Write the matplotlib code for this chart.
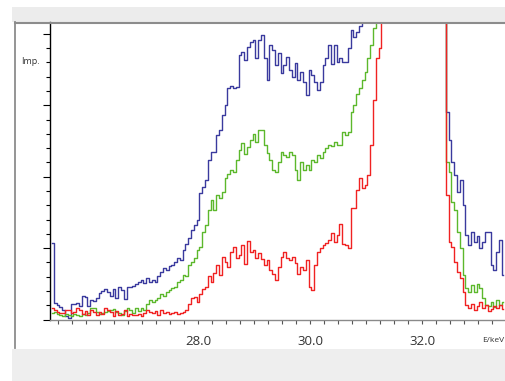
import numpy as np
import matplotlib.pyplot as plt
from matplotlib.patches import Rectangle
from matplotlib.lines import Line2D
from matplotlib.ticker import MultipleLocator, FormatStrFormatter

plt.rcParams['font.family'] = ['Open Sans', 'DejaVu Sans']

# channel calibration (keV)
e_start = 25.40
e_step = 0.05

# counts per channel (peak region is off-scale)
blue = [539, 119, 105, 91, 70, 28, 14, 112, 112, 119,
        98, 168, 161, 98, 140, 133, 154, 189, 203, 217,
        196, 168, 217, 154, 231, 210, 147, 231, 231, 238,
        252, 266, 280, 259, 294, 266, 280, 266, 308, 336,
        364, 350, 378, 385, 406, 434, 420, 490, 532, 574,
        630, 665, 700, 889, 931, 980, 1120, 1176, 1176, 1295,
        1330, 1435, 1505, 1624, 1638, 1624, 1631, 1855, 1876, 1820,
        1911, 1946, 1960, 1834, 1960, 1995, 1834, 1680, 1925, 1890,
        1785, 1869, 1729, 1785, 1841, 1750, 1701, 1799, 1680, 1736,
        1666, 1575, 1750, 1715, 1666, 1610, 1666, 1785, 1834, 1925,
        1792, 1925, 1806, 1834, 1806, 1806, 1904, 2030, 1981, 2016,
        2058, 2150, 2300, 2500, 2750, 3050, 3400, 3900, 4500, 5300,
        6300, 7600, 9200, 11000, 13000, 15000, 16800, 18000, 18500, 18200,
        17200, 15600, 13600, 11400, 9300, 7400, 5800, 4600, 3700, 3000,
        2500, 1456, 1260, 1106, 1015, 896, 980, 805, 595, 525,
        616, 546, 588, 504, 546, 616, 616, 385, 350, 476,
        560, 315]

green = [49, 56, 42, 35, 28, 42, 35, 28, 42, 35,
         28, 42, 35, 49, 84, 84, 56, 42, 49, 56,
         63, 70, 77, 56, 49, 35, 63, 84, 70, 49,
         84, 63, 84, 70, 112, 140, 126, 140, 154, 182,
         168, 196, 210, 224, 231, 266, 280, 315, 308, 385,
         406, 434, 490, 511, 616, 665, 770, 840, 770, 875,
         854, 896, 994, 1022, 1050, 1036, 1120, 1190, 1239, 1162,
         1211, 1260, 1302, 1246, 1330, 1330, 1225, 1169, 1120, 1050,
         1036, 1106, 1176, 1155, 1141, 1176, 1155, 1050, 980, 1106,
         1050, 1085, 1050, 1120, 1106, 1155, 1134, 1176, 1204, 1225,
         1218, 1246, 1225, 1225, 1316, 1295, 1316, 1456, 1505, 1582,
         1624, 1680, 1736, 1834, 1925, 2044, 2250, 2550, 2950, 3500,
         4200, 5100, 6300, 7700, 9300, 10900, 12200, 13000, 13300, 13000,
         12100, 10800, 9200, 7600, 6100, 4800, 3800, 3100, 2600, 2350,
         2200, 1106, 1036, 826, 770, 616, 504, 315, 224, 196,
         245, 196, 252, 224, 154, 105, 98, 126, 91, 140,
         105, 126]

red = [84, 70, 56, 49, 49, 70, 70, 49, 56, 84,
       70, 42, 63, 35, 70, 56, 35, 56, 42, 84,
       70, 56, 28, 63, 35, 42, 70, 28, 42, 35,
       35, 42, 28, 49, 70, 56, 49, 63, 35, 70,
       49, 56, 42, 49, 56, 42, 49, 56, 70, 112,
       154, 161, 126, 182, 217, 231, 308, 266, 329, 385,
       315, 441, 406, 371, 476, 511, 434, 455, 525, 392,
       553, 476, 490, 434, 469, 427, 385, 420, 350, 322,
       280, 371, 441, 476, 434, 420, 441, 399, 322, 371,
       350, 420, 231, 210, 385, 476, 504, 525, 539, 560,
       609, 546, 595, 672, 532, 525, 504, 784, 784, 910,
       994, 924, 945, 1015, 1225, 1540, 1834, 1904, 2300, 2900,
       3700, 4800, 6100, 7500, 8800, 9800, 10300, 10200, 9600, 8500,
       7200, 5900, 4800, 3900, 3200, 2700, 2400, 2250, 2200, 2150,
       2120, 875, 546, 511, 406, 336, 294, 196, 105, 84,
       112, 70, 98, 126, 84, 105, 63, 77, 98, 84,
       105, 77]

energy = e_start + e_step * np.arange(len(blue))

W, H = 506, 381
fig = plt.figure(figsize=(W / 100, H / 100), dpi=100)
fig.patch.set_facecolor('white')

# window chrome: grey strips and panel border
fig.add_artist(Rectangle((12 / W, 1 - 22 / H), 1, 15 / H, transform=fig.transFigure,
                         facecolor='#ececec', edgecolor='none', zorder=0))
fig.add_artist(Rectangle((12 / W, 0), 1, 1 - 349 / H, transform=fig.transFigure,
                         facecolor='#eeeeee', edgecolor='none', zorder=0))
fig.add_artist(Line2D([15 / W, 15 / W], [1 - 22 / H, 1 - 348 / H], transform=fig.transFigure,
                      color='#8c8c8c', lw=1.3, zorder=1))
fig.add_artist(Line2D([15 / W, 1], [1 - 22.5 / H, 1 - 22.5 / H], transform=fig.transFigure,
                      color='#8c8c8c', lw=1.5, zorder=1))

ax = fig.add_axes([50 / W, 1 - 319.5 / H, 1 - 50 / W, 297 / H])
ax.step(energy, blue, where='mid', color='#3a3a9e', lw=1.0)
ax.step(energy, green, where='mid', color='#5cb82c', lw=1.0)
ax.step(energy, red, where='mid', color='#f02222', lw=1.0)

ax.set_xlim(25.357, 33.5)
ax.set_ylim(0, 2080)

ax.set_xticks([28, 30, 32])
ax.xaxis.set_major_formatter(FormatStrFormatter('%.1f'))
ax.xaxis.set_minor_locator(MultipleLocator(0.25))
ax.yaxis.set_major_locator(MultipleLocator(500))
ax.yaxis.set_minor_locator(MultipleLocator(100))
ax.tick_params(axis='x', which='both', direction='out', length=3, width=0.8,
               color='#555555', labelsize=9.5, labelcolor='#333333', pad=8)
ax.tick_params(axis='y', which='major', direction='out', length=5, width=0.8, labelleft=False)
ax.tick_params(axis='y', which='minor', direction='out', length=3, width=0.8)

ax.spines['right'].set_visible(False)
ax.spines['top'].set_visible(False)
ax.spines['left'].set_color('black')
ax.spines['left'].set_linewidth(1.0)
ax.spines['bottom'].set_color('#8a8a8a')
ax.spines['bottom'].set_linewidth(1.0)

fig.text(21 / W, 1 - 62 / H, 'Imp.', fontsize=6.5, color='#333333', va='center', ha='left')
fig.text(504 / W, 1 - 341 / H, 'E/keV', fontsize=6, color='#333333', va='center', ha='right')

fig.savefig('out.png', dpi=100)
